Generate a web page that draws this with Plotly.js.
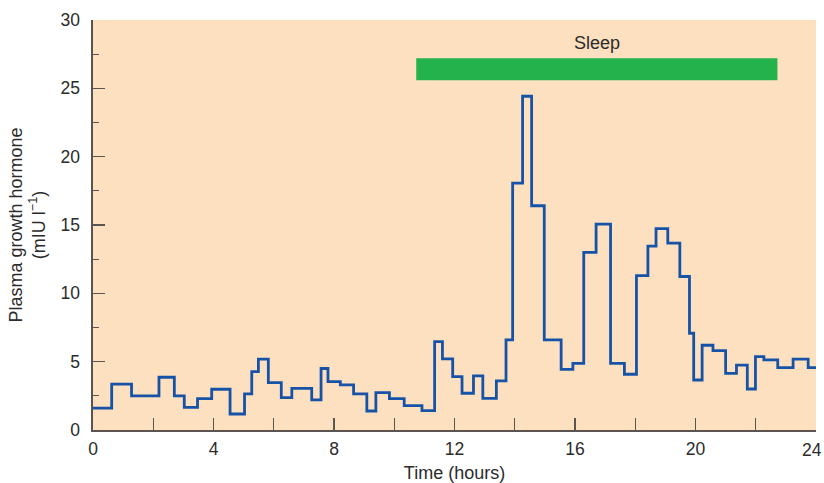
<!DOCTYPE html>
<html>
<head>
<meta charset="utf-8">
<script src="https://cdn.plot.ly/plotly-3.0.1.min.js"></script>
<style>html,body{margin:0;padding:0;background:#fff;}#chart{width:824px;height:483px;}</style>
</head>
<body>
<div id="chart"></div>
<script>
// Step start times (hours) and plasma GH level (mIU/l) for each step
const stepStart = [0, 0.62, 1.28, 2.19, 2.70, 3.03, 3.47, 3.94, 4.55, 5.03, 5.27, 5.49, 5.82, 6.25, 6.60,
  7.26, 7.57, 7.80, 8.21, 8.65, 9.09, 9.39, 9.84, 10.33, 10.92, 11.34, 11.60, 11.94, 12.25, 12.63,
  12.94, 13.39, 13.71, 13.93, 14.26, 14.56, 14.98, 15.54, 15.93, 16.29, 16.70, 17.18, 17.64, 18.04,
  18.42, 18.69, 19.08, 19.48, 19.80, 19.94, 20.22, 20.58, 21.00, 21.36, 21.72, 21.99, 22.27, 22.73,
  23.24, 23.74, 24];
const ghLevel = [1.6, 3.35, 2.5, 3.86, 2.49, 1.66, 2.30, 2.98, 1.17, 2.64, 4.27, 5.18, 3.47, 2.37, 3.05,
  2.20, 4.5, 3.54, 3.30, 2.64, 1.39, 2.73, 2.30, 1.78, 1.42, 6.47, 5.20, 3.91, 2.69, 3.96,
  2.32, 3.59, 6.6, 18.07, 24.42, 16.41, 6.59, 4.44, 4.88, 12.99, 15.06, 4.88, 4.08, 11.3,
  13.45, 14.73, 13.68, 11.23, 7.08, 3.66, 6.2, 5.81, 4.15, 4.74, 3.0, 5.37, 5.13, 4.57,
  5.18, 4.57, 4.57];
// Sleep period
const sleepStart = 10.73, sleepEnd = 22.72;
const sleepBarLow = 25.6, sleepBarHigh = 27.2;
const sleepLabel = "Sleep";
const xTickVals = [0, 4, 8, 12, 16, 20, 24];
const xTickText = ["0", "4", "8", "12", "16", "20", "24"];

const axisColor = '#5a5550';
const tickFont = {family: 'Liberation Sans, Arial, sans-serif', size: 17.5, color: '#2b2b2b'};
const titleFont = {family: 'Liberation Sans, Arial, sans-serif', size: 18, color: '#2b2b2b'};

const lastIdx = xTickVals.length - 1;

const trace = {
  x: stepStart, y: ghLevel, type: 'scatter', mode: 'lines',
  line: {shape: 'hv', color: '#1653A6', width: 2.8},
  hoverinfo: 'skip', showlegend: false
};

const layout = {
  width: 824, height: 483,
  margin: {l: 93, r: 8, t: 20, b: 53},
  paper_bgcolor: '#ffffff',
  plot_bgcolor: '#FDE0C0',
  font: tickFont,
  showlegend: false,
  xaxis: {
    range: [0, 24], tickvals: xTickVals.slice(0, lastIdx), ticktext: xTickText.slice(0, lastIdx),
    ticks: 'inside', ticklen: 12, tickwidth: 1.3, tickcolor: axisColor,
    minor: {dtick: 2, tick0: 0, ticks: 'inside', ticklen: 12, tickwidth: 1.3, tickcolor: axisColor},
    showline: true, linecolor: axisColor, linewidth: 1.6,
    showgrid: false, zeroline: false, fixedrange: true,
    tickfont: tickFont, ticklabelstandoff: 2,
    title: {text: 'Time (hours)', font: titleFont, standoff: 12}
  },
  yaxis: {
    range: [0, 30], dtick: 5, tick0: 0,
    ticks: 'inside', ticklen: 12, tickwidth: 1.3, tickcolor: axisColor,
    minor: {dtick: 2.5, tick0: 0, ticks: 'inside', ticklen: 6, tickwidth: 1.3, tickcolor: axisColor},
    showline: true, linecolor: axisColor, linewidth: 1.6,
    showgrid: false, zeroline: false, fixedrange: true,
    tickfont: tickFont, ticklabelstandoff: 8, ticklabeloverflow: 'allow',
    title: {text: 'Plasma growth hormone<br>(mIU l<sup>−1</sup>)', font: titleFont, standoff: 10}
  },
  shapes: [{
    type: 'rect', xref: 'x', yref: 'y',
    x0: sleepStart, x1: sleepEnd, y0: sleepBarLow, y1: sleepBarHigh,
    fillcolor: '#23B24C', line: {width: 0}, layer: 'above'
  }],
  annotations: [{
    x: (sleepStart + sleepEnd) / 2, y: 28.35, xref: 'x', yref: 'y',
    text: sleepLabel, showarrow: false, font: titleFont
  }, {
    x: xTickVals[lastIdx], y: 0, xref: 'x', yref: 'paper',
    text: xTickText[lastIdx], showarrow: false, font: tickFont,
    xanchor: 'right', yanchor: 'top', xshift: 8, yshift: -8
  }]
};

Plotly.newPlot('chart', [trace], layout, {staticPlot: true, displayModeBar: false});
</script>
</body>
</html>
